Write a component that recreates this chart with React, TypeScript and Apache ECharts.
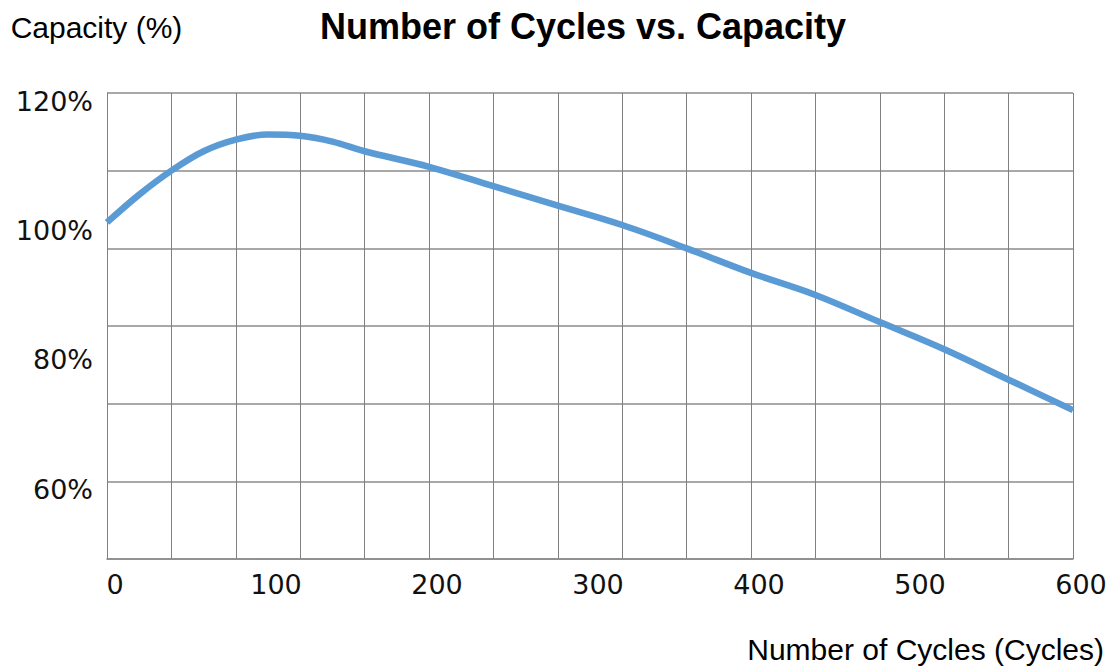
import React, { useEffect, useRef } from "react";
import * as echarts from "echarts";

// Data
const cycles = [0, 20, 40, 60, 80, 100, 120, 140, 160, 200, 240, 280, 320, 360, 400, 440, 480, 520, 560, 600];
const capacity = [100.0, 104.3, 108.0, 111.0, 112.8, 113.6, 113.4, 112.5, 111.0, 108.6, 105.6, 102.6, 99.6, 96.0, 92.2, 88.8, 84.6, 80.4, 75.7, 71.0];
const xLabelValues = [0, 100, 200, 300, 400, 500, 600];
const yLabelValues = [60, 80, 100, 120];

const titleText = "Number of Cycles vs. Capacity";
const xName = "Number of Cycles (Cycles)";
const yName = "Capacity (%)";

export default function App() {
  const ref = useRef<HTMLDivElement | null>(null);

  useEffect(() => {
    if (!ref.current) return;
    const chart = echarts.init(ref.current, null, { renderer: "svg" });
    const sansFont = "'Liberation Sans', Arial, sans-serif";
    const tickFont = "'DejaVu Sans', sans-serif";
    chart.setOption({
      animation: false,
      backgroundColor: "#ffffff",
      title: [
        {
          text: titleText,
          left: 583,
          textAlign: "center",
          top: 8,
          padding: 0,
          textStyle: {
            fontFamily: sansFont,
            fontSize: 36,
            fontWeight: "bold",
            color: "#000000",
            lineHeight: 36,
          },
        },
        {
          // x-axis title
          text: xName,
          right: 8,
          top: 634,
          padding: 0,
          textStyle: {
            fontFamily: sansFont,
            fontSize: 30,
            fontWeight: "normal",
            color: "#000000",
            lineHeight: 30,
          },
        },
      ],
      grid: {
        left: 107,
        right: 39,
        top: 93,
        bottom: 110,
        containLabel: false,
        outerBoundsMode: "none",
      },
      xAxis: {
        type: "value",
        min: 0,
        max: 600,
        interval: 40,
        axisLine: { show: true, lineStyle: { color: "#8a8a8a", width: 1.5 } },
        axisTick: { show: false },
        axisLabel: {
          customValues: xLabelValues,
          fontFamily: tickFont,
          fontSize: 27,
          color: "#111111",
          margin: 12,
          lineHeight: 26,
          padding: [0, 0, 0, 16],
        },
        splitLine: { show: true, lineStyle: { color: "#808080", width: 1 } },
      },
      yAxis: {
        type: "value",
        min: 48,
        max: 120,
        interval: 12,
        name: yName,
        nameLocation: "end",
        nameGap: 66,
        nameTextStyle: {
          fontFamily: sansFont,
          fontSize: 30,
          color: "#000000",
          align: "center",
          verticalAlign: "middle",
          lineHeight: 30,
          padding: [0, 21, 0, 0],
        },
        axisLine: { show: true, lineStyle: { color: "#808080", width: 1 } },
        axisTick: { show: false },
        axisLabel: {
          customValues: yLabelValues,
          formatter: "{value}%",
          fontFamily: tickFont,
          fontSize: 27,
          color: "#111111",
          margin: 14,
          verticalAlign: "top",
          lineHeight: 16,
        },
        splitLine: { show: true, lineStyle: { color: "#a8a8a8", width: 2 } },
      },
      series: [
        {
          type: "line",
          data: cycles.map((c, i) => [c, capacity[i]]),
          smooth: 0.35,
          showSymbol: false,
          symbol: "none",
          lineStyle: { color: "#5b9bd5", width: 6.5 },
          clip: false,
        },
      ],
    });
    return () => {
      chart.dispose();
    };
  }, []);

  return (
    <div
      ref={ref}
      style={{ position: "fixed", left: 0, top: 0, width: 1112, height: 669, background: "#ffffff" }}
    />
  );
}
